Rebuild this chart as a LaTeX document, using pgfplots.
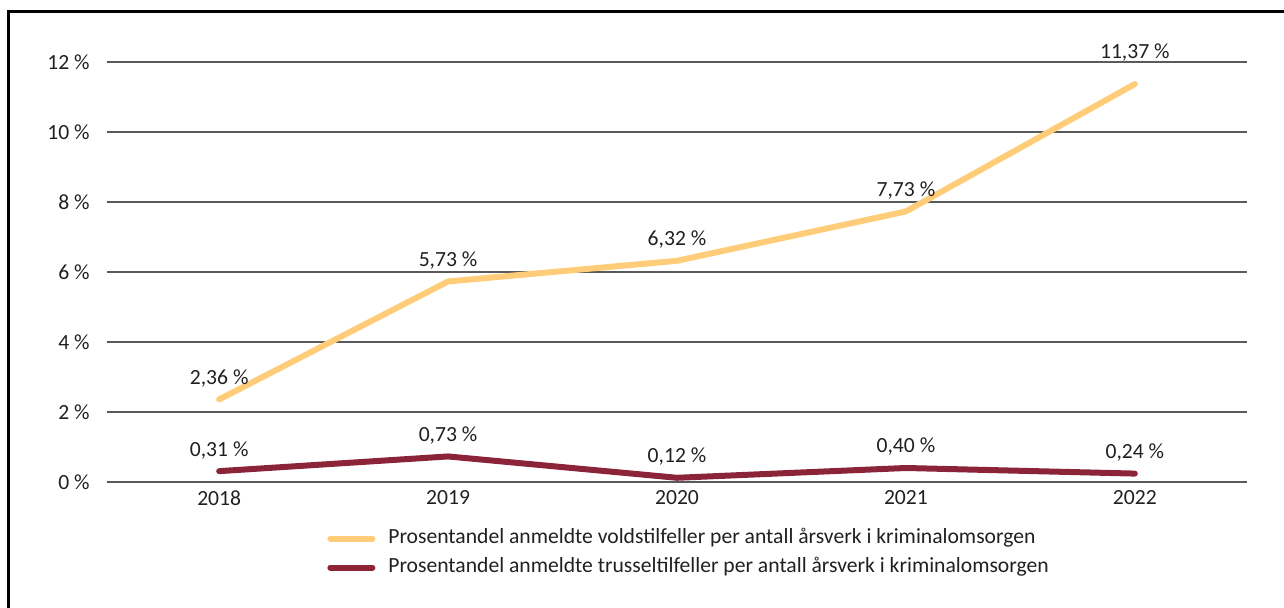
\documentclass[border=0pt]{standalone}
\usepackage{fontspec}
\setmainfont{Carlito}
\usepackage{pgfplots}
\pgfplotsset{compat=1.18}
\definecolor{volds}{RGB}{255,204,122}
\definecolor{trussel}{RGB}{139,36,56}
\definecolor{txt}{RGB}{35,31,32}
\definecolor{gridc}{RGB}{90,90,90}

\begin{document}
\begin{tikzpicture}
  \begin{axis}[
      at={(0,0)}, anchor=south west,
      scale only axis, width=22.8cm, height=8.4cm,
      font=\fontsize{12.3}{14}\selectfont, color=txt,
      xmin=2017.51, xmax=2022.49,
      ymin=0, ymax=12,
      xtick={2018,2019,2020,2021,2022},
      ytick={0,2,4,6,8,10,12},
      xticklabel style={/pgf/number format/1000 sep={}, inner sep=0pt, anchor=north, yshift=-0.16cm},
      yticklabel={\pgfmathprintnumber{\tick}~\%},
      yticklabel style={inner sep=0pt, anchor=east, xshift=-0.34cm},
      /pgf/number format/assume math mode=true,
      axis x line*=bottom, axis y line*=left,
      x axis line style={draw=gridc, line width=0.03cm},
      y axis line style={draw=none},
      major tick length=0pt, tick style={draw=none},
      xmajorgrids=false, ymajorgrids=true,
      major grid style={draw=gridc, line width=0.03cm},
      clip=false,
      nodes near coords={\pgfmathprintnumber[fixed, fixed zerofill, precision=2, use comma]{\pgfplotspointmeta}~\%},
      every node near coord/.append style={anchor=base, inner sep=0pt, yshift=0.3cm, color=txt, font=\fontsize{12.3}{14}\selectfont},
      legend style={at={(axis description cs:0.193,-0.110)}, anchor=north west, draw=none, fill=none,
        inner sep=0pt, font=\fontsize{12.3}{14}\selectfont, text=txt,
        nodes={inner sep=0pt, text height=0.3cm, text depth=0.1cm, anchor=west},
        row sep=0.18cm,
        /tikz/every odd column/.append style={column sep=0.26cm}},
      legend cell align=left,
      legend image code/.code={\draw[#1] (0cm,0cm) -- (0.84cm,0cm);},
    ]
    \addplot[volds, line width=0.12cm, line cap=round, line join=round,
      coordinate style/.condition={meta>11}{yshift=0.22cm}]
      coordinates {(2018,2.36) (2019,5.73) (2020,6.32) (2021,7.73) (2022,11.37)};
    \addlegendentry{Prosentandel anmeldte voldstilfeller per antall årsverk i kriminalomsorgen}
    \addplot[trussel, line width=0.12cm, line cap=round, line join=round]
      coordinates {(2018,0.31) (2019,0.73) (2020,0.12) (2021,0.40) (2022,0.24)};
    \addlegendentry{Prosentandel anmeldte trusseltilfeller per antall årsverk i kriminalomsorgen}
  \end{axis}
  \draw[black, line width=0.06cm] (-1.96,-2.7) -- (-1.96,9.41) -- (23.7,9.41);
  \pgfresetboundingbox
  \path[use as bounding box] (-2.14,-2.52) rectangle (23.54,9.64);
\end{tikzpicture}
\end{document}
